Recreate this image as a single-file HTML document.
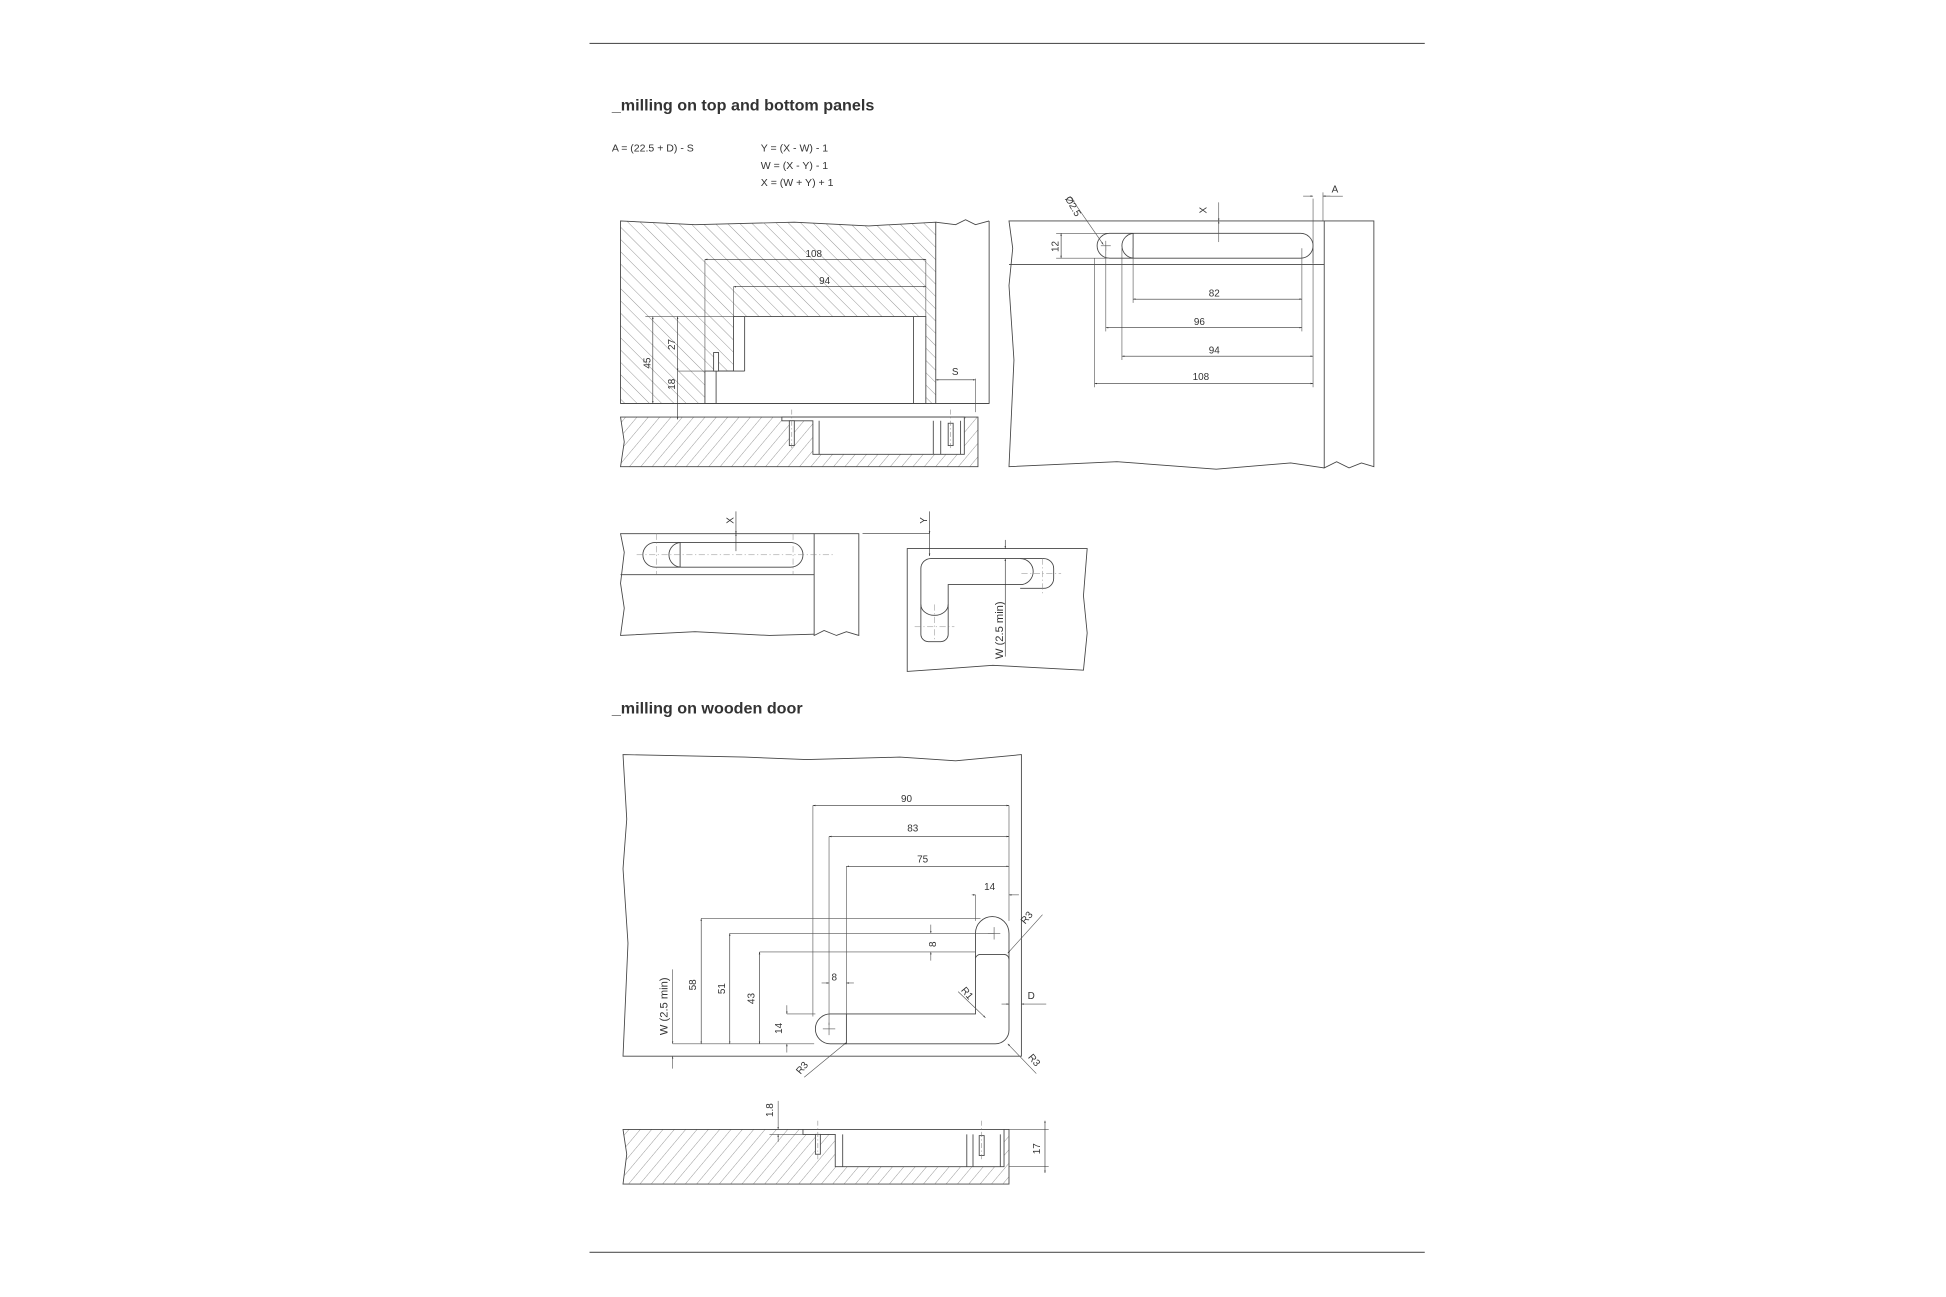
<!DOCTYPE html>
<html><head><meta charset="utf-8"><style>
html,body{margin:0;padding:0;background:#fff;}
svg{display:block}
text{font-family:"Liberation Sans",sans-serif;fill:#333}
</style></head><body>
<svg width="1946" height="1297" viewBox="0 0 1568 1045" xmlns="http://www.w3.org/2000/svg">
<defs>
<pattern id="hb" patternUnits="userSpaceOnUse" width="7" height="7" patternTransform="rotate(-45)"><line x1="0" y1="0" x2="0" y2="7" stroke="#777" stroke-width="0.6"/></pattern>
<pattern id="hf" patternUnits="userSpaceOnUse" width="7" height="7" patternTransform="rotate(40)"><line x1="0" y1="0" x2="0" y2="7" stroke="#777" stroke-width="0.6"/></pattern>
<marker id="a" viewBox="0 0 10 10" refX="10" refY="5" markerWidth="4" markerHeight="4" orient="auto-start-reverse"><path d="M0,2 L10,5 L0,8 z" fill="#333"/></marker>
</defs>
<g stroke="#555" stroke-width="0.9" fill="none">
<line x1="475" y1="35" x2="1148" y2="35"/>
<line x1="475" y1="1009" x2="1148" y2="1009"/>
</g>
<text x="493" y="89" font-size="13" font-weight="bold" fill="#222">_milling on top and bottom panels</text>
<g font-size="8.5">
<text x="493" y="122">A = (22.5 + D) - S</text>
<text x="613" y="122">Y = (X - W) - 1</text>
<text x="613" y="136">W = (X - Y) - 1</text>
<text x="613" y="150">X = (W + Y) + 1</text>
</g>

<!-- TOP LEFT -->
<g stroke="#444" stroke-width="0.7">
<path d="M500,178 L560,181 L640,179 L700,182 L754,179 L754,325 L500,325 Z" fill="url(#hb)"/>
<path d="M568,325 L568,299 L591,299 L591,255 L746,255 L746,325 Z" fill="#fff"/>
<line x1="577" y1="299" x2="577" y2="325"/><line x1="600" y1="255" x2="600" y2="299"/><line x1="577" y1="299" x2="600" y2="299"/>
<line x1="736" y1="255" x2="736" y2="325"/>
<rect x="575" y="284" width="4" height="15" fill="#fff"/>
<path d="M754,179 L770,181 L778,177 L786,181 L797,178 M797,178 L797,325 L754,325" fill="none"/>
<line x1="500" y1="325" x2="797" y2="325"/>
</g>
<g stroke="#555" stroke-width="0.5" fill="none">
<line x1="568" y1="209" x2="568" y2="299"/><line x1="746" y1="209" x2="746" y2="255"/>
<line x1="591" y1="231" x2="591" y2="255"/>
<line x1="520" y1="255" x2="591" y2="255"/><line x1="546" y1="299" x2="568" y2="299"/>
<line x1="786" y1="305" x2="786" y2="332"/>
</g>
<g stroke="#333" stroke-width="0.5" marker-start="url(#a)" marker-end="url(#a)">
<line x1="568" y1="209" x2="746" y2="209"/>
<line x1="591" y1="231" x2="746" y2="231"/>
<line x1="526" y1="255" x2="526" y2="325"/>
<line x1="546" y1="255" x2="546" y2="299"/>
<line x1="754" y1="306" x2="786" y2="306"/>
</g>
<line x1="546" y1="299" x2="546" y2="338" stroke="#333" stroke-width="0.5" marker-end="url(#a)"/>
<g font-size="8">
<text x="649" y="207">108</text><text x="660" y="229">94</text>
<text x="767" y="302">S</text>
<text transform="translate(524,297) rotate(-90)">45</text>
<text transform="translate(544,282) rotate(-90)">27</text>
<text transform="translate(544,314) rotate(-90)">18</text>
</g>
<!-- lower panel -->
<g stroke="#444" stroke-width="0.7">
<path d="M500,336 L788,336 L788,376 L500,376 L503,356 Z" fill="url(#hf)"/>
<path d="M630,336 L777,336 L777,366 L655,366 L655,339 L630,339 Z" fill="#fff"/>
<line x1="660" y1="339" x2="660" y2="366"/><line x1="752" y1="339" x2="752" y2="366"/><line x1="758" y1="339" x2="758" y2="366"/><line x1="774" y1="339" x2="774" y2="366"/>
<rect x="636" y="339" width="4" height="20" fill="#fff"/>
<rect x="764" y="341" width="4" height="18" fill="#fff"/>
</g>
<g stroke="#777" stroke-width="0.4" stroke-dasharray="4 2 1 2"><line x1="638" y1="330" x2="638" y2="362"/><line x1="766" y1="330" x2="766" y2="362"/></g>

<!-- TOP RIGHT -->
<g stroke="#444" stroke-width="0.7" fill="none">
<path d="M1067,178 L813,178 L816,200 L813,230 L817,290 L813,376 L900,372 L980,378 L1040,373 L1067,377"/>
<line x1="813" y1="213" x2="1067" y2="213"/>
<path d="M1067,178 L1107,178 L1107,376 L1097,373 L1087,377 L1077,372 L1067,377 Z"/>
<path d="M894,188 L913,188 L913,208 L894,208 A10,10 0 0 1 894,188 Z"/>
<path d="M914,188 L1048,188 A10,10 0 0 1 1048,208 L914,208 A10,10 0 0 1 914,188 Z"/>
</g>
<g stroke="#555" stroke-width="0.5" fill="none">
<line x1="851" y1="188" x2="894" y2="188"/><line x1="851" y1="208" x2="894" y2="208"/>
<line x1="882" y1="208" x2="882" y2="312"/><line x1="891" y1="198" x2="891" y2="267"/>
<line x1="904" y1="200" x2="904" y2="290"/><line x1="913" y1="200" x2="913" y2="244"/>
<line x1="1049" y1="200" x2="1049" y2="267"/><line x1="1058" y1="200" x2="1058" y2="312"/>
<line x1="1058" y1="160" x2="1058" y2="212"/><line x1="1066" y1="155" x2="1066" y2="178"/>
<line x1="1066" y1="158" x2="1082" y2="158"/>
<line x1="862" y1="158" x2="889" y2="197" marker-end="url(#a)"/>
<line x1="887" y1="198" x2="895" y2="198"/><line x1="891" y1="194" x2="891" y2="202"/>
<line x1="982" y1="163" x2="982" y2="178" marker-end="url(#a)"/>
<line x1="982" y1="178" x2="982" y2="195" marker-start="url(#a)"/>
<line x1="1050" y1="158" x2="1058" y2="158" marker-end="url(#a)"/>
<line x1="1066" y1="158" x2="1072" y2="158" marker-start="url(#a)"/>
</g>
<g stroke="#333" stroke-width="0.5" marker-start="url(#a)" marker-end="url(#a)">
<line x1="855" y1="188" x2="855" y2="208"/>
<line x1="913" y1="241" x2="1049" y2="241"/>
<line x1="891" y1="264" x2="1049" y2="264"/>
<line x1="904" y1="287" x2="1058" y2="287"/>
<line x1="882" y1="309" x2="1058" y2="309"/>
</g>
<g font-size="8">
<text x="974" y="239">82</text><text x="962" y="262">96</text><text x="974" y="285">94</text><text x="961" y="306">108</text>
<text x="1073" y="155">A</text>
<text transform="translate(853,203) rotate(-90)">12</text>
<text transform="translate(972,172) rotate(-90)">X</text>
<text transform="translate(858,160) rotate(60)">Ø2.5</text>
</g>

<!-- MIDDLE LEFT -->
<g stroke="#444" stroke-width="0.7" fill="none">
<path d="M656,430 L500,430 L503,445 L500,470 L503,490 L500,512 L560,509 L620,512 L656,511"/>
<line x1="500" y1="463" x2="656" y2="463"/>
<path d="M656,430 L692,430 L692,512 L682,509 L674,512 L664,508 L656,512 Z"/>
<path d="M528,437 L548,437 L548,457 L528,457 A10,10 0 0 1 528,437 Z"/>
<path d="M549,437 L637,437 A10,10 0 0 1 637,457 L549,457 A10,10 0 0 1 549,437 Z"/>
</g>
<g stroke="#888" stroke-width="0.4" fill="none" stroke-dasharray="5 2 1 2">
<line x1="513" y1="447" x2="672" y2="447"/>
<line x1="529" y1="430" x2="529" y2="463"/><line x1="639" y1="430" x2="639" y2="463"/>
</g>
<g stroke="#333" stroke-width="0.5">
<line x1="593" y1="412" x2="593" y2="430" marker-end="url(#a)"/>
<line x1="593" y1="430" x2="593" y2="444" marker-start="url(#a)"/>
</g>
<text font-size="8" transform="translate(591,422) rotate(-90)">X</text>

<!-- MIDDLE RIGHT -->
<g stroke="#444" stroke-width="0.7" fill="none">
<path d="M731,442 L876,442 L873,480 L876,510 L873,540 L800,536 L760,539 L731,541 Z"/>
<path d="M750,450 L822,450 A10,10 0 0 1 822,471 L764,471 L764,487 A10,8 0 0 1 742,487 L742,458 A8,8 0 0 1 750,450 Z"/>
<path d="M822,450 L841,450 A8,8 0 0 1 849,458 L849,466 A8,8 0 0 1 841,474 L822,474"/>
<path d="M742,487 L742,511 A6,6 0 0 0 748,517 L758,517 A6,6 0 0 0 764,511 L764,487"/>
</g>
<g stroke="#888" stroke-width="0.4" stroke-dasharray="5 2 1 2">
<line x1="823" y1="462" x2="855" y2="462"/><line x1="840" y1="450" x2="840" y2="478"/>
<line x1="737" y1="505" x2="769" y2="505"/><line x1="753" y1="487" x2="753" y2="517"/>
</g>
<g stroke="#333" stroke-width="0.5" fill="none">
<line x1="695" y1="430" x2="749" y2="430"/>
<line x1="749" y1="412" x2="749" y2="430" marker-end="url(#a)"/>
<line x1="749" y1="430" x2="749" y2="448" marker-end="url(#a)"/>
<line x1="810" y1="435" x2="810" y2="442" marker-end="url(#a)"/>
<line x1="810" y1="450" x2="810" y2="529" marker-start="url(#a)"/>
</g>
<text font-size="8" transform="translate(747,422) rotate(-90)">Y</text>
<text font-size="9" transform="translate(808,531) rotate(-90)">W (2.5 min)</text>

<text x="493" y="575" font-size="13" font-weight="bold" fill="#222">_milling on wooden door</text>

<!-- DOOR -->
<g stroke="#444" stroke-width="0.7" fill="none">
<path d="M823,851 L823,608 L770,613 L725,610 L650,612 L600,610 L502,608 L505,660 L502,700 L506,760 L502,851 Z"/>
<path d="M786,752 A13,13 0 0 1 813,752 L813,830 A11,11 0 0 1 802,841 L682,841 L682,817 L786,817 Z"/>
<path d="M786,772 A4,4 0 0 1 790,769 L809,769 A4,4 0 0 1 813,773"/>
<path d="M682,817 L669,817 A12,12 0 0 0 669,841 L682,841"/>
</g>
<g stroke="#555" stroke-width="0.5" fill="none">
<line x1="655" y1="649" x2="655" y2="819"/><line x1="668" y1="674" x2="668" y2="826"/><line x1="682" y1="698" x2="682" y2="817"/>
<line x1="813" y1="649" x2="813" y2="742"/><line x1="786" y1="721" x2="786" y2="742"/>
<line x1="565" y1="740" x2="790" y2="740"/><line x1="588" y1="752" x2="801" y2="752"/><line x1="612" y1="767" x2="786" y2="767"/>
<line x1="634" y1="817" x2="657" y2="817"/><line x1="542" y1="841" x2="656" y2="841"/>
<line x1="796" y1="752" x2="806" y2="752"/><line x1="801" y1="747" x2="801" y2="757"/>
<line x1="663" y1="829" x2="673" y2="829"/><line x1="668" y1="824" x2="668" y2="834"/>
<line x1="840" y1="737" x2="812" y2="768" marker-end="url(#a)"/>
<line x1="772" y1="799" x2="794" y2="820" marker-end="url(#a)"/>
<line x1="648" y1="868" x2="682" y2="840" marker-end="url(#a)"/>
<line x1="835" y1="865" x2="812" y2="841" marker-end="url(#a)"/>
<line x1="542" y1="781" x2="542" y2="841" marker-end="url(#a)"/>
<line x1="542" y1="851" x2="542" y2="861" marker-start="url(#a)"/>
<line x1="634" y1="810" x2="634" y2="817" marker-end="url(#a)"/>
<line x1="634" y1="841" x2="634" y2="848" marker-start="url(#a)"/>
<line x1="750" y1="745" x2="750" y2="752" marker-end="url(#a)"/>
<line x1="750" y1="767" x2="750" y2="774" marker-start="url(#a)"/>
<line x1="662" y1="792" x2="668" y2="792" marker-end="url(#a)"/>
<line x1="682" y1="792" x2="688" y2="792" marker-start="url(#a)"/>
<line x1="807" y1="809" x2="813" y2="809" marker-end="url(#a)"/>
<line x1="823" y1="809" x2="843" y2="809" marker-start="url(#a)"/>
<line x1="783" y1="721" x2="786" y2="721" marker-end="url(#a)"/>
<line x1="813" y1="721" x2="821" y2="721" marker-start="url(#a)"/>
</g>
<g stroke="#333" stroke-width="0.5" marker-start="url(#a)" marker-end="url(#a)">
<line x1="655" y1="649" x2="813" y2="649"/>
<line x1="668" y1="674" x2="813" y2="674"/>
<line x1="682" y1="698" x2="813" y2="698"/>
<line x1="565" y1="740" x2="565" y2="841"/>
<line x1="588" y1="752" x2="588" y2="841"/>
<line x1="612" y1="767" x2="612" y2="841"/>
</g>
<g font-size="8">
<text x="726" y="646">90</text><text x="731" y="670">83</text><text x="739" y="695">75</text>
<text x="793" y="717">14</text><text x="670" y="790">8</text><text x="828" y="805">D</text>
<text transform="translate(561,798) rotate(-90)">58</text>
<text transform="translate(584,801) rotate(-90)">51</text>
<text transform="translate(608,809) rotate(-90)">43</text>
<text transform="translate(630,833) rotate(-90)">14</text>
<text transform="translate(754,763) rotate(-90)">8</text>
<text transform="translate(826,745) rotate(-50)">R3</text>
<text transform="translate(774,798) rotate(50)">R1</text>
<text transform="translate(645,866) rotate(-50)">R3</text>
<text transform="translate(828,852) rotate(50)">R3</text>
</g>
<text font-size="9" transform="translate(538,834) rotate(-90)">W (2.5 min)</text>

<!-- DOOR SECTION -->
<g stroke="#444" stroke-width="0.7">
<path d="M502,910 L813,910 L813,954 L502,954 L505,930 Z" fill="url(#hf)"/>
<path d="M647,910 L809,910 L809,940 L673,940 L673,914 L647,914 Z" fill="#fff"/>
<line x1="679" y1="914" x2="679" y2="940"/><line x1="779" y1="914" x2="779" y2="940"/><line x1="784" y1="914" x2="784" y2="940"/><line x1="806" y1="914" x2="806" y2="940"/>
<rect x="657" y="914" width="4" height="16" fill="#fff"/>
<rect x="789" y="915" width="4" height="16" fill="#fff"/>
</g>
<g stroke="#777" stroke-width="0.4" stroke-dasharray="4 2 1 2"><line x1="659" y1="903" x2="659" y2="934"/><line x1="791" y1="903" x2="791" y2="934"/></g>
<g stroke="#555" stroke-width="0.5">
<line x1="620" y1="914" x2="647" y2="914"/>
<line x1="813" y1="910" x2="845" y2="910"/><line x1="813" y1="940" x2="845" y2="940"/>
<line x1="627" y1="887" x2="627" y2="910" marker-end="url(#a)"/>
<line x1="627" y1="914" x2="627" y2="920" marker-start="url(#a)"/>
</g>
<line x1="842" y1="903" x2="842" y2="945" stroke="#333" stroke-width="0.5" marker-start="url(#a)" marker-end="url(#a)"/>
<text font-size="8" transform="translate(623,900) rotate(-90)">1.8</text>
<text font-size="8" transform="translate(838,930) rotate(-90)">17</text>
</svg>
</body></html>
